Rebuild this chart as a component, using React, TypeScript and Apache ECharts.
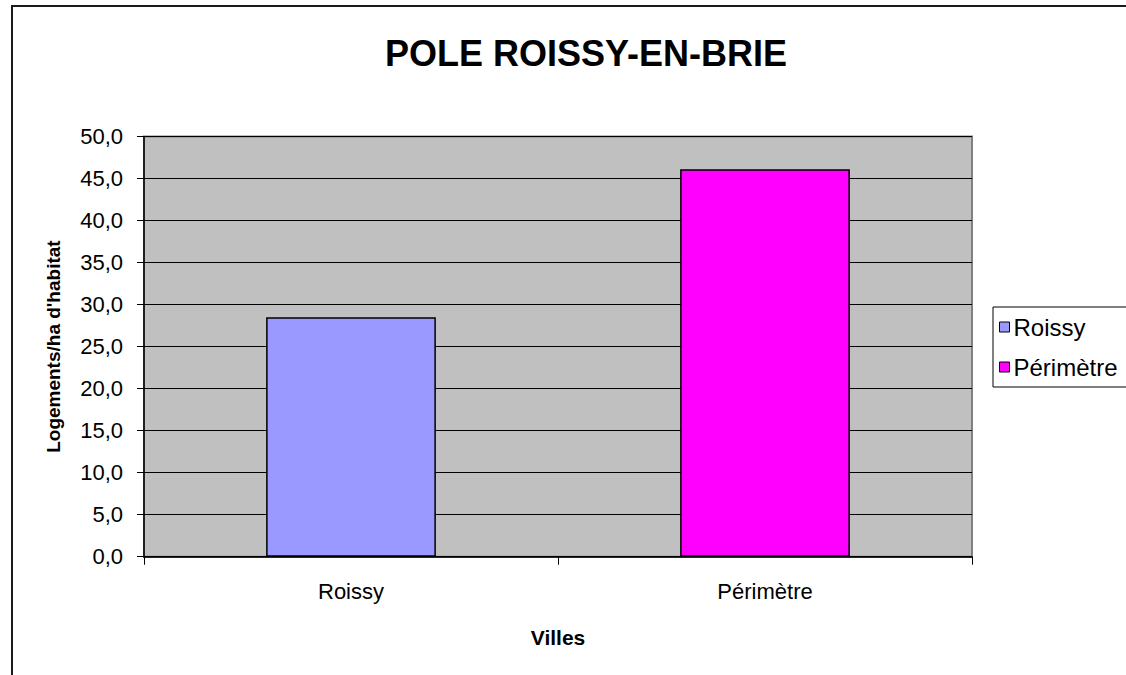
import React, { useEffect, useRef } from "react";
import * as echarts from "echarts";

const categories = ["Roissy", "Périmètre"];
const seriesNames = ["Roissy", "Périmètre"];
const roissyValues = [28.5, null];
const perimetreValues = [null, 46.1];
const seriesColors = ["#9999FF", "#FF00FF"];
const titleText = "POLE ROISSY-EN-BRIE";
const yAxisName = "Logements/ha d'habitat";
const xAxisName = "Villes";

const FONT = "'Liberation Sans', Arial, sans-serif";

export default function App() {
  const ref = useRef<HTMLDivElement>(null);
  useEffect(() => {
    if (!ref.current) return;
    const chart = echarts.init(ref.current, null, { renderer: "svg" });
    const barStyle = (color: string) => ({
      color,
      borderColor: "#000",
      borderWidth: 1.5,
    });
    chart.setOption({
      animation: false,
      backgroundColor: "#fff",
      textStyle: { fontFamily: FONT },
      title: {
        text: titleText,
        left: 581,
        textAlign: "center",
        top: 30,
        textStyle: { fontFamily: FONT, fontSize: 36, fontWeight: "bold", color: "#000" },
      },
      legend: {
        data: seriesNames,
        orient: "vertical",
        left: 993,
        top: 307,
        icon: "rect",
        itemWidth: 10,
        itemHeight: 10,
        itemGap: 16,
        padding: [8, 30, 8, 6],
        borderColor: "#000",
        borderWidth: 1,
        backgroundColor: "#fff",
        textStyle: { fontFamily: FONT, fontSize: 24, color: "#000", padding: [0, 0, 0, -1] },
        itemStyle: { borderColor: "#000", borderWidth: 1 },
      },
      graphic: [
        {
          type: "rect",
          shape: { x: 12, y: 6, width: 1300, height: 900 },
          style: { fill: "none", stroke: "#1a1a1a", lineWidth: 2 },
          silent: true,
          z: -1,
        },
      ],
      grid: {
        left: 144,
        top: 136.5,
        right: 154,
        bottom: 118.3,
        show: true,
        backgroundColor: "#C0C0C0",
        borderColor: "#808080",
        borderWidth: 2,
      },
      xAxis: {
        type: "category",
        data: categories,
        name: xAxisName,
        nameLocation: "middle",
        nameGap: 70,
        nameTextStyle: { fontFamily: FONT, fontSize: 21, fontWeight: "bold", color: "#000" },
        axisLine: { lineStyle: { color: "#000", width: 1.5 } },
        axisTick: { show: true, inside: false, length: 8, lineStyle: { color: "#000" } },
        axisLabel: { fontFamily: FONT, fontSize: 22, color: "#000", margin: 24 },
        splitLine: { show: false },
      },
      yAxis: {
        type: "value",
        min: 0,
        max: 50,
        interval: 5,
        name: yAxisName,
        nameLocation: "middle",
        nameRotate: 90,
        nameGap: 81,
        nameTextStyle: { fontFamily: FONT, fontSize: 19, fontWeight: "bold", color: "#000" },
        axisLine: { show: true, lineStyle: { color: "#000", width: 1.5 } },
        axisTick: { show: true, inside: false, length: 7, lineStyle: { color: "#000" } },
        axisLabel: {
          fontFamily: FONT,
          fontSize: 22,
          color: "#000",
          margin: 21,
          formatter: (v: number) => v.toFixed(1).replace(".", ","),
        },
        splitLine: { show: true, lineStyle: { color: "#000", width: 1 } },
      },
      series: [
        {
          name: seriesNames[0],
          type: "bar",
          stack: "s",
          data: roissyValues,
          barCategoryGap: "59%",
          itemStyle: barStyle(seriesColors[0]),
        },
        {
          name: seriesNames[1],
          type: "bar",
          stack: "s",
          data: perimetreValues,
          barCategoryGap: "59%",
          itemStyle: barStyle(seriesColors[1]),
        },
      ],
    });
    return () => chart.dispose();
  }, []);
  return (
    <div
      ref={ref}
      style={{ position: "fixed", left: 0, top: 0, width: 1126, height: 675 }}
    />
  );
}
